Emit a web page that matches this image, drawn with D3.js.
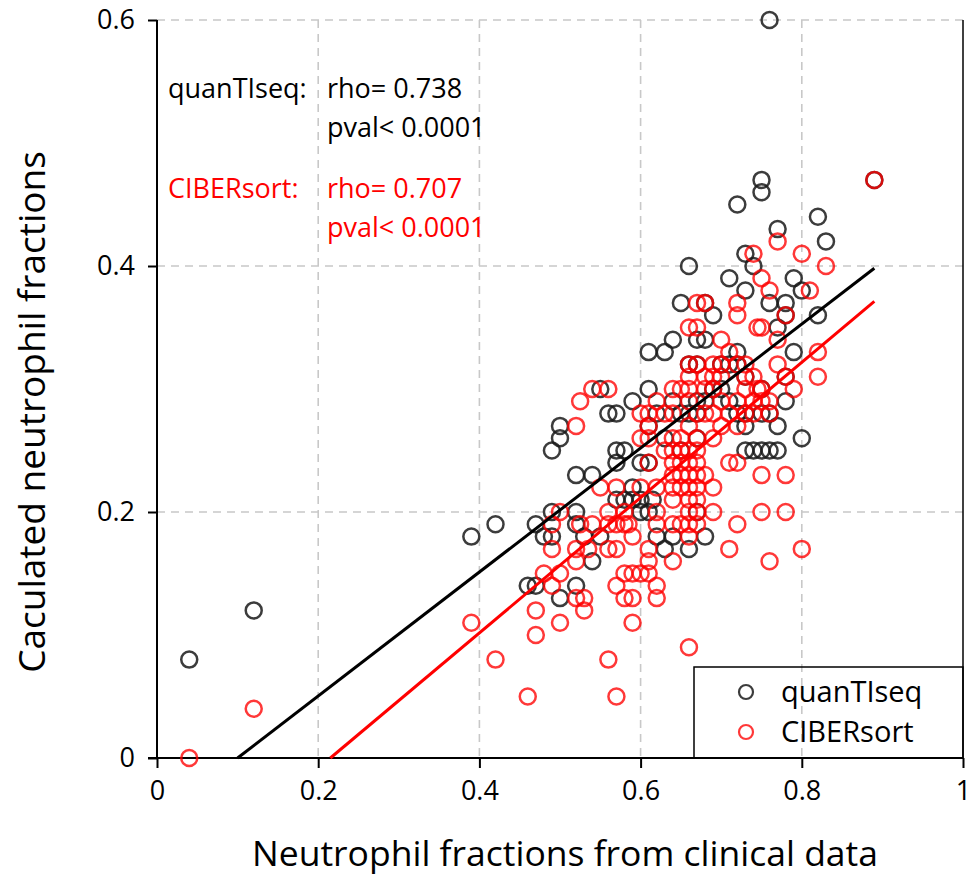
<!DOCTYPE html>
<html>
<head>
<meta charset="utf-8">
<script src="https://cdn.jsdelivr.net/npm/d3@7"></script>
<style>
  body { margin: 0; background: #fff; }
  svg { font-family: "Open Sans", "Noto Sans", sans-serif; }
</style>
</head>
<body>
<div id="chart"></div>
<script>
// quanTIseq estimates vs clinical neutrophil fraction
const quantiseq = [
  [0.04,0.08],[0.12,0.12],[0.39,0.18],[0.42,0.19],[0.46,0.14],[0.47,0.14],[0.47,0.19],[0.48,0.18],
  [0.49,0.18],[0.49,0.20],[0.49,0.25],[0.50,0.13],[0.50,0.26],[0.50,0.27],[0.52,0.14],[0.52,0.19],
  [0.52,0.20],[0.52,0.23],[0.53,0.18],[0.54,0.16],[0.54,0.23],[0.55,0.18],[0.55,0.30],[0.56,0.28],
  [0.57,0.28],[0.57,0.25],[0.58,0.25],[0.57,0.24],[0.57,0.21],[0.58,0.21],[0.59,0.21],[0.60,0.21],
  [0.615,0.21],[0.59,0.22],[0.59,0.29],[0.60,0.20],[0.61,0.20],[0.60,0.24],[0.61,0.24],[0.61,0.27],
  [0.61,0.30],[0.61,0.33],[0.62,0.18],[0.62,0.28],[0.63,0.17],[0.63,0.26],[0.63,0.33],[0.64,0.18],
  [0.64,0.29],[0.64,0.34],[0.65,0.25],[0.65,0.28],[0.65,0.37],[0.66,0.17],[0.66,0.28],[0.66,0.32],
  [0.66,0.40],[0.67,0.20],[0.67,0.26],[0.67,0.28],[0.67,0.29],[0.67,0.32],[0.67,0.34],[0.68,0.18],
  [0.68,0.29],[0.68,0.34],[0.68,0.37],[0.69,0.30],[0.69,0.36],[0.70,0.30],[0.70,0.32],[0.71,0.29],
  [0.71,0.32],[0.71,0.39],[0.72,0.28],[0.72,0.32],[0.72,0.33],[0.72,0.45],[0.73,0.25],[0.73,0.27],
  [0.73,0.28],[0.73,0.31],[0.73,0.38],[0.73,0.41],[0.74,0.25],[0.74,0.40],[0.75,0.25],[0.75,0.28],
  [0.75,0.30],[0.75,0.46],[0.75,0.47],[0.76,0.25],[0.76,0.28],[0.76,0.37],[0.76,0.60],[0.77,0.25],
  [0.77,0.27],[0.77,0.35],[0.77,0.43],[0.78,0.29],[0.78,0.31],[0.78,0.36],[0.78,0.37],[0.79,0.33],
  [0.79,0.39],[0.80,0.26],[0.80,0.38],[0.82,0.36],[0.82,0.44],[0.83,0.42],[0.89,0.47]
];

// CIBERsort estimates vs clinical neutrophil fraction
const cibersort = [
  [0.04,0.00],[0.12,0.04],[0.39,0.11],[0.42,0.08],[0.46,0.05],[0.47,0.10],[0.47,0.12],[0.48,0.15],
  [0.49,0.14],[0.49,0.17],[0.49,0.19],[0.50,0.11],[0.50,0.15],[0.50,0.20],[0.52,0.13],[0.52,0.16],
  [0.52,0.17],[0.52,0.27],[0.525,0.19],[0.525,0.29],[0.53,0.12],[0.53,0.13],[0.535,0.17],[0.54,0.19],
  [0.54,0.30],[0.55,0.22],[0.56,0.08],[0.56,0.17],[0.56,0.19],[0.56,0.20],[0.56,0.30],[0.57,0.05],
  [0.57,0.14],[0.57,0.17],[0.57,0.19],[0.57,0.22],[0.58,0.13],[0.58,0.15],[0.58,0.19],[0.58,0.20],
  [0.585,0.19],[0.59,0.11],[0.59,0.13],[0.59,0.15],[0.59,0.18],[0.60,0.15],[0.60,0.22],[0.60,0.26],
  [0.60,0.28],[0.61,0.15],[0.61,0.16],[0.61,0.17],[0.61,0.24],[0.61,0.26],[0.61,0.27],[0.61,0.28],
  [0.62,0.13],[0.62,0.14],[0.62,0.19],[0.62,0.20],[0.62,0.22],[0.62,0.29],[0.63,0.25],[0.63,0.28],
  [0.64,0.16],[0.64,0.19],[0.64,0.21],[0.64,0.22],[0.64,0.23],[0.64,0.24],[0.64,0.25],[0.64,0.26],
  [0.64,0.28],[0.64,0.30],[0.65,0.19],[0.65,0.22],[0.65,0.23],[0.65,0.24],[0.65,0.25],[0.65,0.26],
  [0.65,0.30],[0.66,0.09],[0.66,0.18],[0.66,0.19],[0.66,0.20],[0.66,0.21],[0.66,0.22],[0.66,0.23],
  [0.66,0.24],[0.66,0.25],[0.66,0.27],[0.66,0.29],[0.66,0.30],[0.66,0.31],[0.66,0.32],[0.66,0.35],
  [0.67,0.19],[0.67,0.20],[0.67,0.21],[0.67,0.22],[0.67,0.23],[0.67,0.24],[0.67,0.25],[0.67,0.26],
  [0.67,0.28],[0.67,0.32],[0.67,0.35],[0.67,0.37],[0.68,0.23],[0.68,0.28],[0.68,0.30],[0.68,0.31],
  [0.68,0.37],[0.69,0.20],[0.69,0.22],[0.69,0.26],[0.69,0.28],[0.69,0.30],[0.69,0.31],[0.69,0.32],
  [0.70,0.27],[0.70,0.29],[0.70,0.31],[0.70,0.32],[0.70,0.34],[0.71,0.17],[0.71,0.24],[0.71,0.28],
  [0.71,0.33],[0.72,0.19],[0.72,0.24],[0.72,0.27],[0.72,0.29],[0.72,0.32],[0.72,0.36],[0.72,0.37],
  [0.73,0.28],[0.73,0.30],[0.73,0.31],[0.73,0.32],[0.74,0.28],[0.74,0.29],[0.74,0.31],[0.74,0.41],
  [0.745,0.30],[0.745,0.35],[0.75,0.20],[0.75,0.23],[0.75,0.29],[0.75,0.30],[0.75,0.35],[0.75,0.39],
  [0.76,0.16],[0.76,0.28],[0.76,0.29],[0.76,0.38],[0.77,0.32],[0.77,0.34],[0.77,0.42],[0.78,0.20],
  [0.78,0.23],[0.78,0.31],[0.78,0.36],[0.79,0.30],[0.80,0.17],[0.80,0.41],[0.81,0.38],[0.82,0.31],
  [0.82,0.33],[0.83,0.40],[0.89,0.47]
];

// linear trendlines [slope, intercept], drawn from y=0 up to xMax
const quantiseqFit = [0.504, -0.0504];
const cibersortFit = [0.550, -0.1183];
const fitXMax = 0.89;

const xTicks = [0, 0.2, 0.4, 0.6, 0.8, 1];
const yTicks = [0, 0.2, 0.4, 0.6];
const xTickLabels = ['0', '0.2', '0.4', '0.6', '0.8', '1'];
const yTickLabels = ['0', '0.2', '0.4', '0.6'];

const statsLines = [
  { name: 'quanTIseq:', rho: 'rho= 0.738', pval: 'pval< 0.0001', color: '#000' },
  { name: 'CIBERsort:', rho: 'rho= 0.707', pval: 'pval< 0.0001', color: '#ff0000' }
];

const width = 975, height = 876;
const margin = { top: 20, right: 12, bottom: 118, left: 157 };

const svg = d3.select('#chart').append('svg')
  .attr('width', width)
  .attr('height', height);

const x = d3.scaleLinear().domain([0, 1]).range([margin.left, width - margin.right]);
const y = d3.scaleLinear().domain([0, 0.6]).range([height - margin.bottom, margin.top]);

// grid
const grid = svg.append('g')
  .attr('stroke', '#c8c8c8')
  .attr('stroke-width', 1.6)
  .attr('stroke-dasharray', '8,6');

grid.selectAll('line.v')
  .data(xTicks.filter(d => d > 0 && d < 1))
  .enter().append('line')
  .attr('x1', d => x(d)).attr('x2', d => x(d))
  .attr('y1', y(0.6)).attr('y2', y(0));

grid.selectAll('line.h')
  .data(yTicks.filter(d => d > 0))
  .enter().append('line')
  .attr('x1', x(0)).attr('x2', x(1))
  .attr('y1', d => y(d)).attr('y2', d => y(d));

// axes
const xAxis = d3.axisBottom(x)
  .tickValues(xTicks)
  .tickFormat((d, i) => xTickLabels[i])
  .tickSize(10)
  .tickPadding(13);

const yAxis = d3.axisLeft(y)
  .tickValues(yTicks)
  .tickFormat((d, i) => yTickLabels[i])
  .tickSize(9)
  .tickPadding(13);

const gx = svg.append('g')
  .attr('transform', `translate(0,${y(0)})`)
  .call(xAxis);

const gy = svg.append('g')
  .attr('transform', `translate(${x(0)},0)`)
  .call(yAxis);

[gx, gy].forEach(g => {
  g.select('.domain').remove();
  g.selectAll('.tick line').attr('stroke', '#000').attr('stroke-width', 2);
  g.selectAll('.tick text')
    .attr('fill', '#000')
    .style('font-size', '27px')
    .style('font-family', '"Open Sans", sans-serif');
});

// axis lines + right border
svg.append('line')
  .attr('x1', x(0) - 9).attr('x2', x(1))
  .attr('y1', y(0)).attr('y2', y(0))
  .attr('stroke', '#000').attr('stroke-width', 2);
svg.append('line')
  .attr('x1', x(0)).attr('x2', x(0))
  .attr('y1', y(0.6)).attr('y2', y(0))
  .attr('stroke', '#000').attr('stroke-width', 2);
svg.append('line')
  .attr('x1', x(1)).attr('x2', x(1))
  .attr('y1', y(0.6)).attr('y2', y(0))
  .attr('stroke', '#000').attr('stroke-width', 1.5);

// points
const series = [
  { data: quantiseq, color: '#1a1a1a', opacity: 0.85 },
  { data: cibersort, color: '#ff0000', opacity: 0.78 }
];

series.forEach(s => {
  svg.append('g').selectAll('circle')
    .data(s.data)
    .enter().append('circle')
    .attr('cx', d => x(d[0]))
    .attr('cy', d => y(d[1]))
    .attr('r', 8)
    .attr('fill', 'none')
    .attr('stroke', s.color)
    .attr('stroke-opacity', s.opacity)
    .attr('stroke-width', 2.5);
});

// trendlines
const fits = [
  { fit: quantiseqFit, color: '#000' },
  { fit: cibersortFit, color: '#ff0000' }
];
fits.forEach(f => {
  const [m, b] = f.fit;
  const x0 = -b / m;
  svg.append('line')
    .attr('x1', x(x0)).attr('y1', y(0))
    .attr('x2', x(fitXMax)).attr('y2', y(m * fitXMax + b))
    .attr('stroke', f.color)
    .attr('stroke-width', 3);
});

// stats text
statsLines.forEach((s, i) => {
  const top = 98 + i * 100;
  const g = svg.append('g').attr('fill', s.color).style('font-size', '27px');
  g.append('text').attr('x', 168).attr('y', top).text(s.name);
  g.append('text').attr('x', 327).attr('y', top).text(s.rho);
  g.append('text').attr('x', 327).attr('y', top + 39).text(s.pval);
});

// legend
const legend = svg.append('g');
legend.append('rect')
  .attr('x', 694).attr('y', 667)
  .attr('width', x(1) - 694).attr('height', y(0) - 667)
  .attr('fill', 'none')
  .attr('stroke', '#000')
  .attr('stroke-width', 1.5);

series.forEach((s, i) => {
  const cy = 692 + i * 40;
  legend.append('circle')
    .attr('cx', 746).attr('cy', cy).attr('r', 7)
    .attr('fill', 'none')
    .attr('stroke', s.color)
    .attr('stroke-opacity', s.opacity)
    .attr('stroke-width', 2.2);
  legend.append('text')
    .attr('x', 781).attr('y', cy + 10)
    .style('font-size', '29px')
    .attr('fill', '#000')
    .text(i === 0 ? 'quanTIseq' : 'CIBERsort');
});

// axis titles
svg.append('text')
  .attr('x', 565).attr('y', 866)
  .attr('text-anchor', 'middle')
  .style('font-size', '35.5px')
  .text('Neutrophil fractions from clinical data');

svg.append('text')
  .attr('transform', 'translate(45,412) rotate(-90)')
  .attr('text-anchor', 'middle')
  .style('font-size', '37px')
  .text('Caculated neutrophil fractions');
</script>
</body>
</html>
